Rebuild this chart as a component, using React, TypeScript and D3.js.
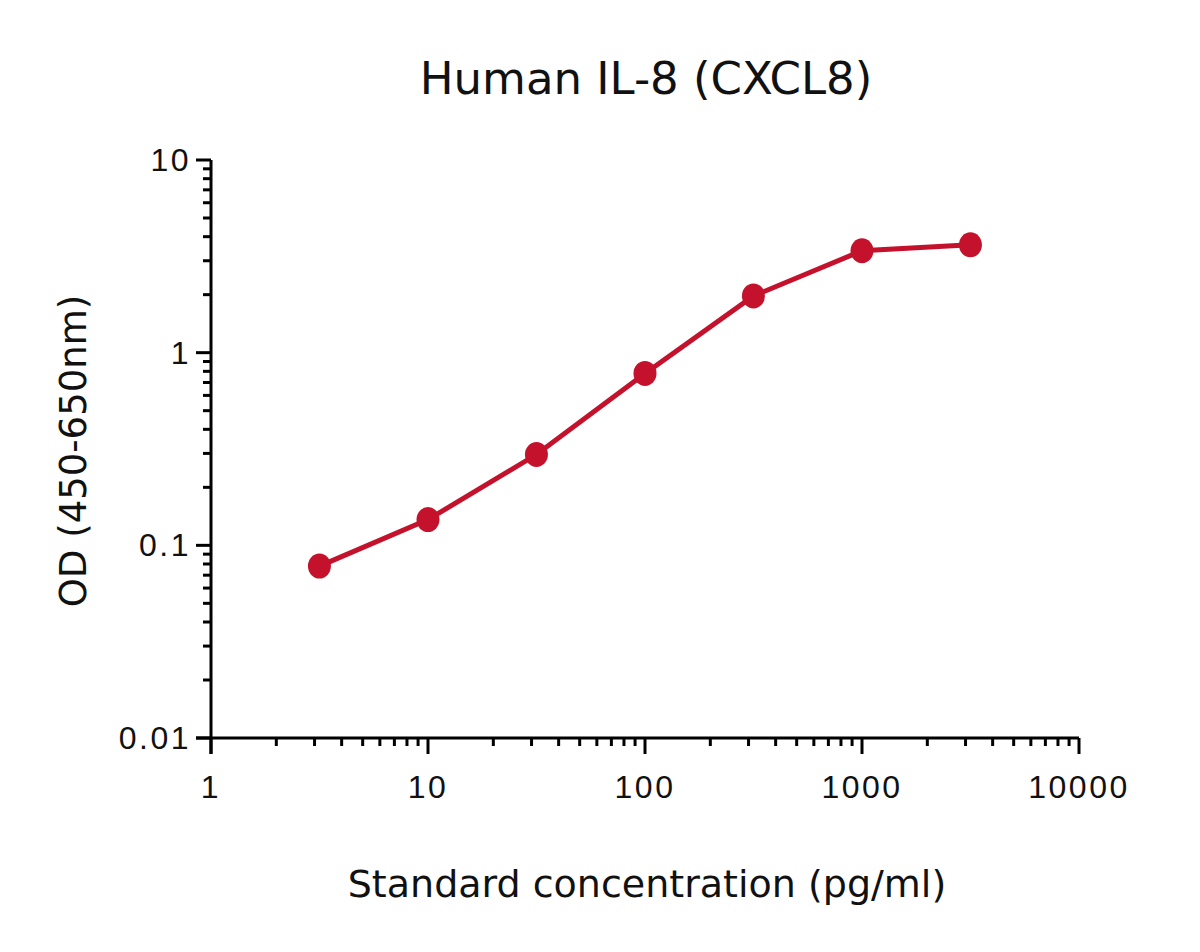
import React from 'react';
import * as d3 from 'd3';

const concentrations = [3.16, 10, 31.6, 100, 316, 1000, 3160];
const odValues = [0.078, 0.136, 0.296, 0.78, 1.97, 3.38, 3.63];
const xTickLabels = ['1', '10', '100', '1000', '10000'];
const yTickLabels = ['0.01', '0.1', '1', '10'];

const WIDTH = 1200;
const HEIGHT = 952;
const margin = { top: 160, right: 121, bottom: 214, left: 211 };
const chartWidth = WIDTH - margin.left - margin.right;
const chartHeight = HEIGHT - margin.top - margin.bottom;

const RED = '#c4122d';
const tickFont = '"Liberation Sans", Arial, sans-serif';
const titleFont = '"DejaVu Sans", Verdana, sans-serif';

export default function App() {
  const xScale = d3.scaleLog().domain([1, 10000]).range([0, chartWidth]);
  const yScale = d3.scaleLog().domain([0.01, 10]).range([chartHeight, 0]);

  const points = concentrations.map((c, i) => ({ x: c, y: odValues[i] }));

  const line = d3
    .line<{ x: number; y: number }>()
    .x(d => xScale(d.x))
    .y(d => yScale(d.y));

  // minor ticks: 2..9 in every decade
  const xMinor = xScale.ticks().filter(t => !xTickLabels.includes(String(t)));
  const yMinor = yScale.ticks().filter(t => !yTickLabels.includes(String(t)));

  return (
    <svg
      width={WIDTH}
      height={HEIGHT}
      style={{ position: 'absolute', left: 0, top: 0, background: '#fff' }}
    >
      <text
        x={646}
        y={94}
        textAnchor="middle"
        fontFamily={titleFont}
        fontSize={45}
        fill="#111"
      >
        Human IL-8 (CXCL8)
      </text>

      <g transform={`translate(${margin.left},${margin.top})`}>
        {/* x axis */}
        <g transform={`translate(0,${chartHeight})`}>
          <line x1={-15} x2={chartWidth} y1={0} y2={0} stroke="#000" strokeWidth={3} />
          {xTickLabels.map(t => {
            const x = xScale(+t);
            return (
              <g key={t} transform={`translate(${x},0)`}>
                <line y1={0} y2={16} stroke="#000" strokeWidth={3} />
                <text
                  y={60}
                  textAnchor="middle"
                  fontFamily={tickFont}
                  fontSize={32}
                  letterSpacing={2.5}
                  fill="#111"
                >
                  {t}
                </text>
              </g>
            );
          })}
          {xMinor.map((t, i) => (
            <line
              key={i}
              x1={xScale(t)}
              x2={xScale(t)}
              y1={0}
              y2={8}
              stroke="#000"
              strokeWidth={3}
            />
          ))}
        </g>

        {/* y axis */}
        <g>
          <line x1={0} x2={0} y1={0} y2={chartHeight + 16} stroke="#000" strokeWidth={3} />
          {yTickLabels.map(t => {
            const y = yScale(+t);
            return (
              <g key={t} transform={`translate(0,${y})`}>
                <line x1={-15} x2={0} stroke="#000" strokeWidth={3} />
                <text
                  x={-20}
                  y={11}
                  textAnchor="end"
                  fontFamily={tickFont}
                  fontSize={32}
                  letterSpacing={2.5}
                  fill="#111"
                >
                  {t}
                </text>
              </g>
            );
          })}
          {yMinor.map((t, i) => (
            <line
              key={i}
              x1={-8}
              x2={0}
              y1={yScale(t)}
              y2={yScale(t)}
              stroke="#000"
              strokeWidth={3}
            />
          ))}
        </g>

        {/* curve */}
        <path d={line(points) || ''} fill="none" stroke={RED} strokeWidth={5} />
        {points.map((d, i) => (
          <ellipse key={i} cx={xScale(d.x)} cy={yScale(d.y)} rx={11.5} ry={12.5} fill={RED} />
        ))}
      </g>

      <text
        x={647}
        y={897}
        textAnchor="middle"
        fontFamily={titleFont}
        fontSize={38}
        fill="#111"
      >
        Standard concentration (pg/ml)
      </text>
      <text
        transform={`translate(86,451) rotate(-90)`}
        textAnchor="middle"
        fontFamily={titleFont}
        fontSize={37}
        fill="#111"
      >
        OD (450-650nm)
      </text>
    </svg>
  );
}
